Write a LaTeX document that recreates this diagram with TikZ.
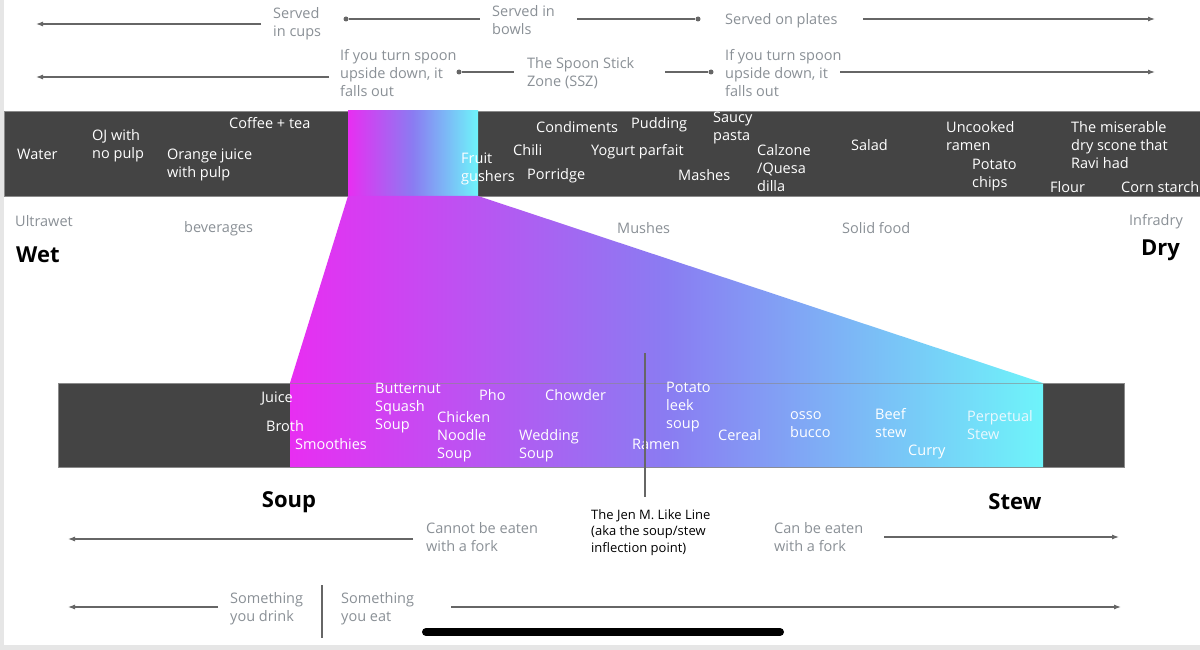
\documentclass[tikz,border=0pt]{standalone}
\usepackage{fontspec}
\setmainfont{Open Sans}
\usetikzlibrary{arrows.meta}
\definecolor{barc}{HTML}{444444}
\definecolor{bord}{HTML}{8A8A8A}
\definecolor{txtg}{HTML}{8A9096}
\definecolor{linec}{HTML}{666666}
\definecolor{gmag}{HTML}{E82EF2}
\definecolor{gmid}{HTML}{8A7CF2}
\definecolor{gcyan}{HTML}{6EF4FA}
\definecolor{frame}{HTML}{E6E6E6}
\tikzset{
  lbl/.style={text=txtg, font=\fontsize{14.5}{18}\selectfont, align=left, anchor=west, inner sep=0pt, yshift=-1.5pt},
  wl/.style={text=white, font=\fontsize{14.5}{18}\selectfont, align=left, anchor=west, inner sep=0pt, yshift=-1.5pt},
  big/.style={text=black, font=\fontsize{22}{26}\selectfont\bfseries, inner sep=0pt},
  jentxt/.style={text=black, font=\fontsize{13}{16.5}\selectfont, align=left, anchor=west, inner sep=0pt, yshift=-1.5pt},
  ln/.style={draw=linec, line width=1.1pt},
  arr/.style={ln, -{Latex[length=7pt,width=5pt]}},
  dot/.style={circle, fill=linec, inner sep=0pt, minimum size=5pt},
  grad/.style={left color=gmag, right color=gcyan, middle color=gmid},
}
\begin{document}
\begin{tikzpicture}[x=1pt,y=-1pt]
\useasboundingbox (0,0) rectangle (1200,650);
\fill[white] (0,0) rectangle (1200,650);
\fill[frame] (0,0) rectangle (4,650);
\fill[frame] (0,645) rectangle (1200,650);

% ---------- top rows ----------
\node[lbl] (cups) at (273,22) {Served\\in cups};
\node[lbl] (bowls) at (492,19) {Served in\\bowls};
\node[lbl] (plates) at (725,19) {Served on plates};
\coordinate (r1a) at (261,24);
\coordinate (r1b) at (36,24);
\draw[arr] (r1a) -- (r1b);
\node[dot] (d1) at (346,19) {};
\coordinate (r1c) at (480,19);
\draw[ln] (d1) -- (r1c);
\coordinate (r1d) at (577,19);
\node[dot] (d2) at (698,19) {};
\draw[ln] (r1d) -- (d2);
\coordinate (r1e) at (863,19);
\coordinate (r1f) at (1155,19);
\draw[arr] (r1e) -- (r1f);

\node[lbl] (fall1) at (340,72) {If you turn spoon\\upside down, it\\falls out};
\node[lbl] (ssz) at (527,72) {The Spoon Stick\\Zone (SSZ)};
\node[lbl] (fall2) at (725,72) {If you turn spoon\\upside down, it\\falls out};
\coordinate (r2a) at (329,77);
\coordinate (r2b) at (36,77);
\draw[arr] (r2a) -- (r2b);
\node[dot] (d3) at (459,72) {};
\coordinate (r2c) at (514,72);
\draw[ln] (d3) -- (r2c);
\coordinate (r2d) at (665,72);
\node[dot] (d4) at (711,72) {};
\draw[ln] (r2d) -- (d4);
\coordinate (r2e) at (840,72);
\coordinate (r2f) at (1155,72);
\draw[arr] (r2e) -- (r2f);

% ---------- top bar ----------
\fill[barc] (4,111) rectangle (1200,196);
\draw[bord, line width=0.8pt] (4,196) -- (4,111) -- (1200,111);
\draw[bord, line width=0.8pt] (4,196) -- (1200,196);

% ---------- bottom bar ----------
\fill[barc] (58,383) rectangle (1124,467);
\draw[bord, line width=0.8pt] (58,383) rectangle (1124,467);

% ---------- gradient funnel ----------
\shade[grad] (348,111) rectangle (478,196);
\shade[grad] (348,196) -- (478,196) -- (1043,383) -- (1043,467) -- (290,467) -- (290,383) -- cycle;
\draw[bord, line width=0.6pt, opacity=0.6] (290,383) -- (1043,383);

% ---------- top bar texts ----------
\node[wl] (water) at (17,153) {Water};
\node[wl] (ojn) at (92,144) {OJ with\\no pulp};
\node[wl] (coffee) at (229,122) {Coffee + tea};
\node[wl] (ojp) at (167,163) {Orange juice\\with pulp};
\node[wl] (fruit) at (461,167) {Fruit\\gushers};
\node[wl] (cond) at (536,126) {Condiments};
\node[wl] (pud) at (631,123) {Pudding};
\node[wl] (saucy) at (713,126) {Saucy\\pasta};
\node[wl] (chili) at (513,149) {Chili};
\node[wl] (yog) at (591,150) {Yogurt parfait};
\node[wl] (porr) at (527,174) {Porridge};
\node[wl] (mash) at (678,174) {Mashes};
\node[wl] (calz) at (757,167) {Calzone\\/Quesa\\dilla};
\node[wl] (salad) at (851,144) {Salad};
\node[wl] (uncook) at (946,135) {Uncooked\\ramen};
\node[wl] (chips) at (972,174) {Potato\\chips};
\node[wl] (scone) at (1071,144) {The miserable\\dry scone that\\Ravi had};
\node[wl] (flour) at (1050,186) {Flour};
\node[wl] (corn) at (1121,186) {Corn starch};

% ---------- scale labels ----------
\node[lbl] (ultra) at (15,220) {Ultrawet};
\node[lbl] (bev) at (184,227) {beverages};
\node[lbl] (mushes) at (617,227) {Mushes};
\node[lbl] (solid) at (842,227) {Solid food};
\node[lbl, anchor=east] (infra) at (1183,220) {Infradry};
\node[big, anchor=west] (wet) at (16,255) {Wet};
\node[big, anchor=east] (dry) at (1180,250) {Dry};

% ---------- bottom bar texts ----------
\node[wl, anchor=east] (juice) at (293,397) {Juice};
\node[wl] (broth) at (266,425) {Broth};
\node[wl] (smooth) at (295,443) {Smoothies};
\node[wl] (butter) at (375,407) {Butternut\\Squash\\Soup};
\node[wl] (pho) at (479,394) {Pho};
\node[wl] (chowder) at (545,394) {Chowder};
\node[wl] (chicken) at (437,435) {Chicken\\Noodle\\Soup};
\node[wl] (wedding) at (519,444) {Wedding\\Soup};
\node[wl] (leek) at (666,406) {Potato\\leek\\soup};
\node[wl] (ramen) at (632,443) {Ramen};
\node[wl] (cereal) at (718,434) {Cereal};
\node[wl] (osso) at (790,423) {osso\\bucco};
\node[wl] (beef) at (875,422) {Beef\\stew};
\node[wl] (curry) at (908,450) {Curry};
\node[wl, text=white!92!cyan] (perp) at (967,424) {Perpetual\\Stew};

% ---------- Jen M. Like line ----------
\coordinate (jtop) at (645,353);
\coordinate (jbot) at (645,497);
\draw[ln] (jtop) -- (jbot);
\node[jentxt] (jen) at (591,531) {The Jen M. Like Line\\(aka the soup/stew\\inflection point)};

\node[big] (soup) at (289,502) {Soup};
\node[big] (stew) at (1015,502) {Stew};

% ---------- fork row ----------
\node[lbl] (nofork) at (426,536) {Cannot be eaten\\with a fork};
\node[lbl] (fork) at (774,536) {Can be eaten\\with a fork};
\coordinate (f1a) at (413,539);
\coordinate (f1b) at (68,539);
\draw[arr] (f1a) -- (f1b);
\coordinate (f2a) at (884,537);
\coordinate (f2b) at (1119,537);
\draw[arr] (f2a) -- (f2b);

% ---------- drink / eat row ----------
\node[lbl] (drink) at (230,607) {Something\\you drink};
\node[lbl] (eat) at (341,607) {Something\\you eat};
\coordinate (s1a) at (218,607);
\coordinate (s1b) at (68,607);
\draw[arr] (s1a) -- (s1b);
\coordinate (s2a) at (451,607);
\coordinate (s2b) at (1121,607);
\draw[arr] (s2a) -- (s2b);
\coordinate (vtop) at (322,585);
\coordinate (vbot) at (322,638);
\draw[ln] (vtop) -- (vbot);

% home indicator
\coordinate (h1) at (426,632);
\coordinate (h2) at (780,632);
\draw[black, line width=8pt, line cap=round] (h1) -- (h2);
\end{tikzpicture}
\end{document}
